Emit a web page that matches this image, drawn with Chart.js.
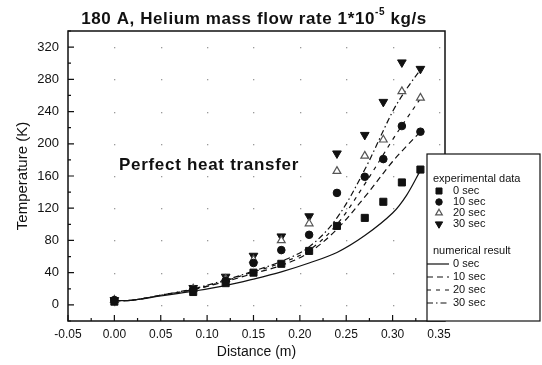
<!DOCTYPE html>
<html>
<head>
<meta charset="utf-8">
<script src="https://cdn.jsdelivr.net/npm/chart.js@4.4.1/dist/chart.umd.min.js"></script>
<style>
  html, body { margin: 0; padding: 0; background: #fff; }
  #wrap { position: relative; width: 542px; height: 365px; }
</style>
</head>
<body>
<div id="wrap"><canvas id="chart" width="542" height="365"></canvas></div>
<script>
// experimental data (K) at the measuring positions (m)
const distance = [0, 0.085, 0.12, 0.15, 0.18, 0.21, 0.24, 0.27, 0.29, 0.31, 0.33];
const exp0 = [4, 16, 27, 40, 51, 67, 98, 108, 128, 152, 168];
const exp10 = [6, 19, 30, 52, 68, 87, 139, 159, 181, 222, 215];
const exp20 = [6, 20, 32, 56, 80, 101, 166, 185, 205, 265, 257];
const exp30 = [6, 21, 35, 61, 85, 110, 188, 211, 252, 301, 293];

// numerical result curves
const modelX = [0, 0.02, 0.05, 0.085, 0.12, 0.15, 0.18, 0.21, 0.24, 0.27, 0.30, 0.315, 0.33];
const num0 = [5, 6, 11, 17, 24, 32, 41, 52, 65, 86, 114, 136, 167];
const num10 = [5, 6, 12, 19, 29, 39, 49, 65, 94, 134, 178, 197, 215];
const num20 = [5, 6, 12, 19, 30, 41, 52, 68, 100, 150, 205, 231, 256];
const num30 = [5, 6, 12, 20, 31, 42, 54, 72, 108, 168, 240, 268, 292];

const xTicks = [-0.05, 0, 0.05, 0.10, 0.15, 0.20, 0.25, 0.30, 0.35];
const yTicks = [0, 40, 80, 120, 160, 200, 240, 280, 320];
const timeLabels = ['0 sec', '10 sec', '20 sec', '30 sec'];

const FONT = '"Liberation Sans", Arial, sans-serif';

const pairs = (xs, ys) => xs.map((x, i) => ({ x, y: ys[i] }));

const expSets = [
  { data: pairs(distance, exp0), pointStyle: 'rect', pointRadius: 5, backgroundColor: '#111', borderColor: '#111' },
  { data: pairs(distance, exp10), pointStyle: 'circle', pointRadius: 3.8, backgroundColor: '#111', borderColor: '#111' },
  { data: pairs(distance, exp20), pointStyle: 'triangle', pointRadius: 4.5, backgroundColor: '#fff', borderColor: '#555', borderWidth: 1.2 },
  { data: pairs(distance, exp30), pointStyle: 'triangle', rotation: 180, pointRadius: 5, backgroundColor: '#111', borderColor: '#111' }
];

const numSets = [
  { data: pairs(modelX, num0), borderDash: [] },
  { data: pairs(modelX, num10), borderDash: [6, 4] },
  { data: pairs(modelX, num20), borderDash: [4, 5] },
  { data: pairs(modelX, num30), borderDash: [6, 3, 1.5, 3] }
];

const datasets = [];
expSets.forEach((d, i) => datasets.push(Object.assign({
  label: 'exp ' + timeLabels[i], showLine: false, kind: 'exp'
}, d)));
numSets.forEach((d, i) => datasets.push(Object.assign({
  label: 'num ' + timeLabels[i], showLine: true, kind: 'num', pointRadius: 0,
  borderColor: '#111', borderWidth: 1.2, tension: 0.35
}, d)));

// dots at major grid intersections, inward ticks and plot frame
const framePlugin = {
  id: 'frame',
  beforeDatasetsDraw(chart) {
    const { ctx, scales: { x, y } } = chart;
    ctx.save();
    ctx.fillStyle = '#9a9a9a';
    xTicks.forEach(xv => {
      if (xv <= x.min || xv >= x.max) return;
      yTicks.forEach(yv => {
        ctx.fillRect(Math.round(x.getPixelForValue(xv)), Math.round(y.getPixelForValue(yv)), 1.3, 1.3);
      });
    });
    ctx.restore();
  },
  afterDatasetsDraw(chart) {
    const { ctx, chartArea: a, scales: { x, y } } = chart;
    ctx.save();
    ctx.strokeStyle = '#111';
    ctx.lineWidth = 1.2;
    ctx.beginPath();
    for (let v = -0.05; v <= 0.3501; v += 0.025) {
      const px = x.getPixelForValue(v);
      const major = Math.abs(Math.round(v / 0.05) * 0.05 - v) < 1e-6;
      ctx.moveTo(px, a.bottom);
      ctx.lineTo(px, a.bottom - (major ? 6 : 3));
    }
    for (let v = -20; v <= 340; v += 20) {
      const py = y.getPixelForValue(v);
      const major = v % 40 === 0 && v >= 0;
      ctx.moveTo(a.left, py);
      ctx.lineTo(a.left + (major ? 6 : 3), py);
    }
    ctx.stroke();
    ctx.lineWidth = 1.5;
    ctx.strokeRect(a.left, a.top, a.right - a.left, a.bottom - a.top);
    ctx.restore();
  }
};

// title with superscript, note and legend box
const textPlugin = {
  id: 'texts',
  afterDraw(chart) {
    const { ctx } = chart;
    ctx.save();
    ctx.fillStyle = '#111';
    ctx.textBaseline = 'alphabetic';

    // title
    const main = '180 A, Helium mass flow rate 1*10';
    const sup = '-5';
    const tail = ' kg/s';
    ctx.font = 'bold 17px ' + FONT;
    ctx.letterSpacing = '0.6px';
    const wMain = ctx.measureText(main).width;
    const wTail = ctx.measureText(tail).width;
    ctx.font = 'bold 10px ' + FONT;
    const wSup = ctx.measureText(sup).width;
    let tx = 254 - (wMain + wSup + wTail) / 2;
    ctx.font = 'bold 17px ' + FONT;
    ctx.fillText(main, tx, 24);
    tx += wMain;
    ctx.font = 'bold 10px ' + FONT;
    ctx.fillText(sup, tx, 15);
    tx += wSup;
    ctx.font = 'bold 17px ' + FONT;
    ctx.fillText(tail, tx, 24);

    // note inside the plot
    ctx.font = 'bold 17px ' + FONT;
    ctx.letterSpacing = '0.7px';
    ctx.fillText('Perfect heat transfer', 119, 170);
    ctx.letterSpacing = '0px';

    // legend box
    const bx = 427, by = 154, bw = 113, bh = 167;
    ctx.fillStyle = '#fff';
    ctx.fillRect(bx, by, bw, bh);
    ctx.strokeStyle = '#111';
    ctx.lineWidth = 1.2;
    ctx.strokeRect(bx, by, bw, bh);

    ctx.fillStyle = '#111';
    ctx.font = '11px ' + FONT;
    ctx.textBaseline = 'middle';
    ctx.fillText('experimental data', 433, 179);
    ctx.fillText('numerical result', 433, 251);

    const expMeta = chart.data.datasets.filter(d => d.kind === 'exp');
    expMeta.forEach((d, i) => {
      const yy = 191 + i * 11;
      ctx.save();
      ctx.fillStyle = d.backgroundColor;
      ctx.strokeStyle = d.borderColor;
      ctx.lineWidth = d.borderWidth || 1;
      Chart.helpers.drawPoint(ctx, {
        pointStyle: d.pointStyle, rotation: d.rotation || 0,
        radius: d.pointRadius * 0.85, borderWidth: d.borderWidth || 1
      }, 439, yy);
      ctx.restore();
      ctx.fillText(timeLabels[i], 453, yy);
    });

    const numMeta = chart.data.datasets.filter(d => d.kind === 'num');
    numMeta.forEach((d, i) => {
      const yy = 264 + i * 13;
      ctx.save();
      ctx.strokeStyle = d.borderColor;
      ctx.lineWidth = d.borderWidth;
      ctx.setLineDash(d.borderDash);
      ctx.beginPath();
      ctx.moveTo(bx, yy);
      ctx.lineTo(bx + 22, yy);
      ctx.stroke();
      ctx.restore();
      ctx.fillText(timeLabels[i], 453, yy);
    });
    ctx.restore();
  }
};

new Chart(document.getElementById('chart'), {
  type: 'scatter',
  data: { datasets },
  options: {
    responsive: false,
    animation: false,
    events: [],
    layout: { padding: { top: 31, right: 97, left: 0, bottom: 0 } },
    plugins: {
      legend: { display: false },
      tooltip: { enabled: false }
    },
    scales: {
      x: {
        type: 'linear',
        min: -0.05,
        max: 0.3565,
        afterFit: s => { s.height = 44; },
        afterBuildTicks: s => { s.ticks = xTicks.map(v => ({ value: v })); },
        grid: { display: false, drawTicks: false },
        border: { display: false },
        ticks: {
          padding: 6,
          color: '#111',
          font: { family: FONT, size: 12 },
          maxRotation: 0,
          callback: v => v.toFixed(2)
        },
        title: {
          display: true,
          text: 'Distance (m)',
          color: '#111',
          font: { family: FONT, size: 14 },
          padding: { top: 0, bottom: 4 }
        }
      },
      y: {
        type: 'linear',
        min: -20,
        max: 340,
        afterFit: s => { s.width = 68; },
        afterBuildTicks: s => { s.ticks = yTicks.map(v => ({ value: v })); },
        grid: { display: false, drawTicks: false },
        border: { display: false },
        ticks: {
          padding: 9,
          color: '#111',
          font: { family: FONT, size: 13 },
          callback: v => String(v)
        },
        title: {
          display: true,
          text: 'Temperature (K)',
          color: '#111',
          font: { family: FONT, size: 15 },
          padding: { top: 14, bottom: 0 }
        }
      }
    }
  },
  plugins: [framePlugin, textPlugin]
});
</script>
</body>
</html>
